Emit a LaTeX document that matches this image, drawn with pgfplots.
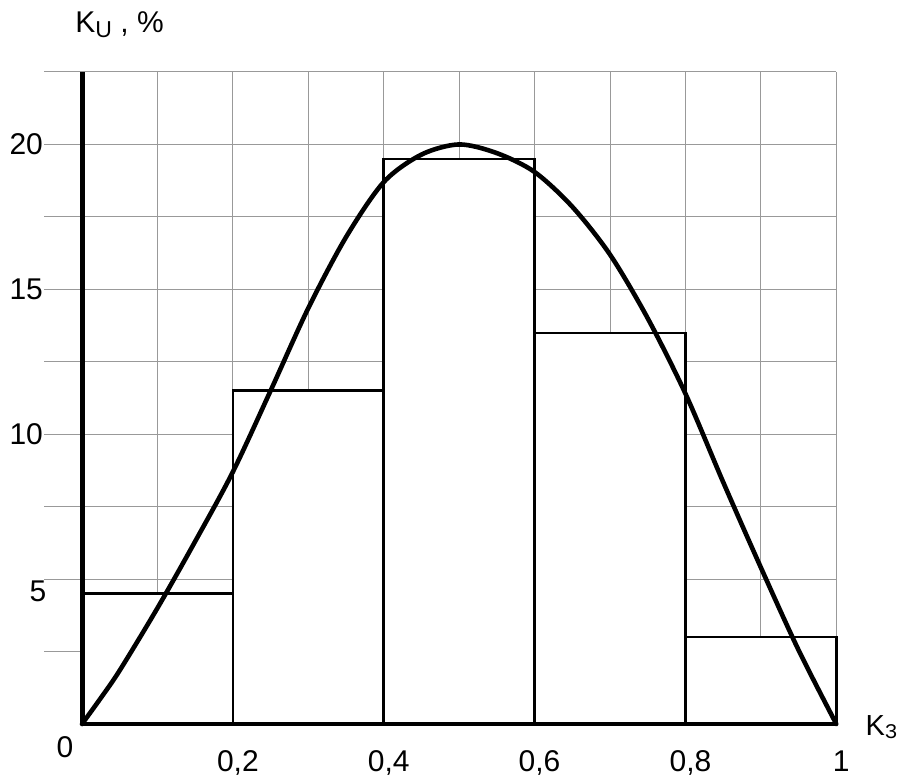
\documentclass[border=0pt]{standalone}
\usepackage{pgfplots}
\pgfplotsset{compat=1.18}
\usepackage{fontspec}
\setmainfont{Liberation Sans}

\begin{document}
\begin{tikzpicture}
\begin{axis}[
    scale only axis,
    width=396pt, height=326pt,
    xmin=-0.05, xmax=1, ymin=0, ymax=22.5,
    axis line style={draw=none},
    xtick={0.2,0.4,0.6,0.8,1},
    xticklabels={{0,2},{0,4},{0,6},{0,8},1},
    minor xtick={0.1,0.3,0.5,0.7,0.9},
    ytick={10,15,20},
    minor ytick={2.5,5,7.5,12.5,17.5,22.5},
    grid=both,
    major grid style={draw=gray!80, line width=0.5pt},
    minor grid style={draw=gray!80, line width=0.5pt},
    major tick length=0pt, minor tick length=0pt,
    tick label style={font=\fontsize{15}{18}\selectfont},
    xticklabel style={anchor=north, inner sep=0pt, yshift=-13pt, xshift=2.5pt},
    yticklabel style={anchor=east, inner sep=0pt, xshift=-0.5pt},
    /pgf/number format/assume math mode=true,
    clip=false,
]
% histogram
\addplot[ybar interval, fill=white, draw=black, line width=1.3pt]
    coordinates {(0,4.5) (0.2,11.5) (0.4,19.5) (0.6,13.5) (0.8,3.0) (1,3.0)};

% distribution curve
\addplot[black, line width=2.3pt, smooth, line cap=round, line join=round] coordinates {
    (0,0) (0.025,0.9) (0.05,1.85) (0.1,4.0) (0.15,6.3) (0.2,8.7) (0.25,11.5)
    (0.3,14.35) (0.35,16.8) (0.4,18.7) (0.45,19.65) (0.5,20)
    (0.55,19.7) (0.6,19.05) (0.65,17.85) (0.7,16.2) (0.75,14.0)
    (0.8,11.4) (0.85,8.35) (0.9,5.4) (0.95,2.55) (1,0)
};

% axes
\addplot[black, line width=2.5pt] coordinates {(0,0) (0,22.5)};
\addplot[black, line width=2.2pt] coordinates {(0,0) (1,0)};

\node[font=\fontsize{15}{18}\selectfont] at ([shift={(-8.5pt,-11.5pt)}]axis cs:0,0) {0};
\node[font=\fontsize{15}{18}\selectfont] at ([shift={(-22pt,-6pt)}]axis cs:0,5) {5};
\node[anchor=base west, inner sep=0pt, font=\fontsize{15}{18}\selectfont]
    at ([shift={(-3.5pt,19.5pt)}]axis cs:0,22.5)
    {K\raisebox{-2.5pt}{\fontsize{11.5}{12}\selectfont U} , \%};
\node[anchor=base west, inner sep=0pt, font=\fontsize{14.5}{17}\selectfont]
    at ([shift={(14.5pt,-5.5pt)}]axis cs:1,0)
    {K\raisebox{-1.5pt}{\fontsize{10}{11}\selectfont З}};

\coordinate (O) at (axis cs:0,0);
\end{axis}
\pgfresetboundingbox
\path[use as bounding box] (O) ++(-41pt,-26pt) rectangle ++(448.5pt,388pt);
\end{tikzpicture}
\end{document}
